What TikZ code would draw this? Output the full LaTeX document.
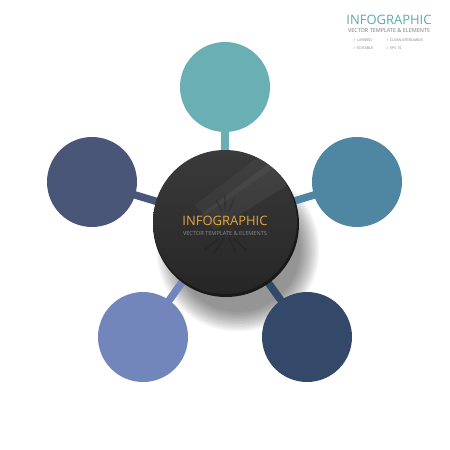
\documentclass[tikz,border=0pt]{standalone}
\usepackage{fontspec}
\setmainfont{Open Sans}
\newfontfamily\djv{DejaVu Sans}
\usetikzlibrary{backgrounds}
\definecolor{cTop}{HTML}{6AAFB3}
\definecolor{cRight}{HTML}{4F87A2}
\definecolor{cLeft}{HTML}{4A5678}
\definecolor{cBL}{HTML}{7286BB}
\definecolor{cBR}{HTML}{34496A}
\definecolor{cDarkTop}{HTML}{3A3A3A}
\definecolor{cDarkBot}{HTML}{262626}
\definecolor{cOrange}{HTML}{E9A43B}
\definecolor{cSub}{HTML}{8A8A8A}
\definecolor{cTitle}{HTML}{5DA9B0}
\definecolor{cGrayTxt}{HTML}{7A7A7A}
\begin{document}
\begin{tikzpicture}[x=1pt,y=-1pt,
  circ/.style={circle, minimum size=90pt, inner sep=0pt, draw=none},
  stem/.style={line width=7.5pt},
  smalltxt/.style={inner sep=0pt, text=cGrayTxt, anchor=west, font=\fontsize{3.6}{4}\selectfont}]
\useasboundingbox (0,0) rectangle (450,450);
% outer circles
\node[circ, fill=cTop] (t) at (225,87) {};
\node[circ, fill=cLeft] (l) at (92,182) {};
\node[circ, fill=cRight] (r) at (357,182) {};
\node[circ, fill=cBL] (bl) at (143,337) {};
\node[circ, fill=cBR] (br) at (307,337) {};
% center disc
\node[circle, minimum size=146pt, inner sep=0pt, fill=black!90] (rim) at (226,224) {};
\node[circle, minimum size=144pt, inner sep=0pt, top color=cDarkTop, bottom color=cDarkBot] (c) at (225,222) {};
\begin{scope}
  \clip (c.center) circle (72pt);
  \fill[white, opacity=0.05] (300,140) -- (320,165) -- (215,230) -- (200,215) -- cycle;
  \fill[white, opacity=0.04] (280,140) -- (300,150) -- (205,215) -- (195,205) -- cycle;
  \foreach \a/\b/\c/\d in {205/250/218/239, 214/253/224/238, 236/253/229/238, 246/250/234/239, 216/200/222/211, 234/199/229/211, 225/196/225/210} {
    \draw[black, opacity=0.15, line width=1.6pt, line cap=round] (\a,\b) -- (\c,\d);
  }
\end{scope}
\node[inner sep=0pt, text=cOrange] (ct) at (225,221) {\resizebox{85pt}{!}{INFOGRAPHIC}};
\node[inner sep=0pt, text=cSub] (cs) at (225,233) {\resizebox{84pt}{!}{VECTOR TEMPLATE \& ELEMENTS}};
% shadow and stems behind
\begin{scope}[on background layer]
  \fill[white] (0,0) rectangle (450,450);
  \foreach \i in {0,...,13} {
    \fill[black, opacity=0.035] (238,250) circle ({62+1.5*\i});
  }
  \draw[stem, cTop] (c.center) -- (t.center);
  \draw[stem, cLeft] (c.center) -- (l.center);
  \draw[stem, cRight] (c.center) -- (r.center);
  \draw[stem, cBL] (c.center) -- (bl.center);
  \draw[stem, cBR] (c.center) -- (br.center);
\end{scope}
% top-right title
\node[inner sep=0pt, text=cTitle] (tt) at (389,20) {\resizebox{85pt}{!}{INFOGRAPHIC}};
\node[inner sep=0pt, text=cGrayTxt] (ts) at (389,31) {\resizebox{82pt}{!}{VECTOR TEMPLATE \& ELEMENTS}};
\node[smalltxt] (k1) at (353,40) {{\djv\textcolor{cTitle}{✓}} LAYERED};
\node[smalltxt] (k2) at (386,40) {{\djv\textcolor{cTitle}{✓}} CLEAN ARTBOARDS};
\node[smalltxt] (k3) at (353,48) {{\djv\textcolor{cTitle}{✓}} EDITABLE};
\node[smalltxt] (k4) at (386,48) {{\djv\textcolor{cTitle}{✓}} EPS 10};
\end{tikzpicture}
\end{document}
